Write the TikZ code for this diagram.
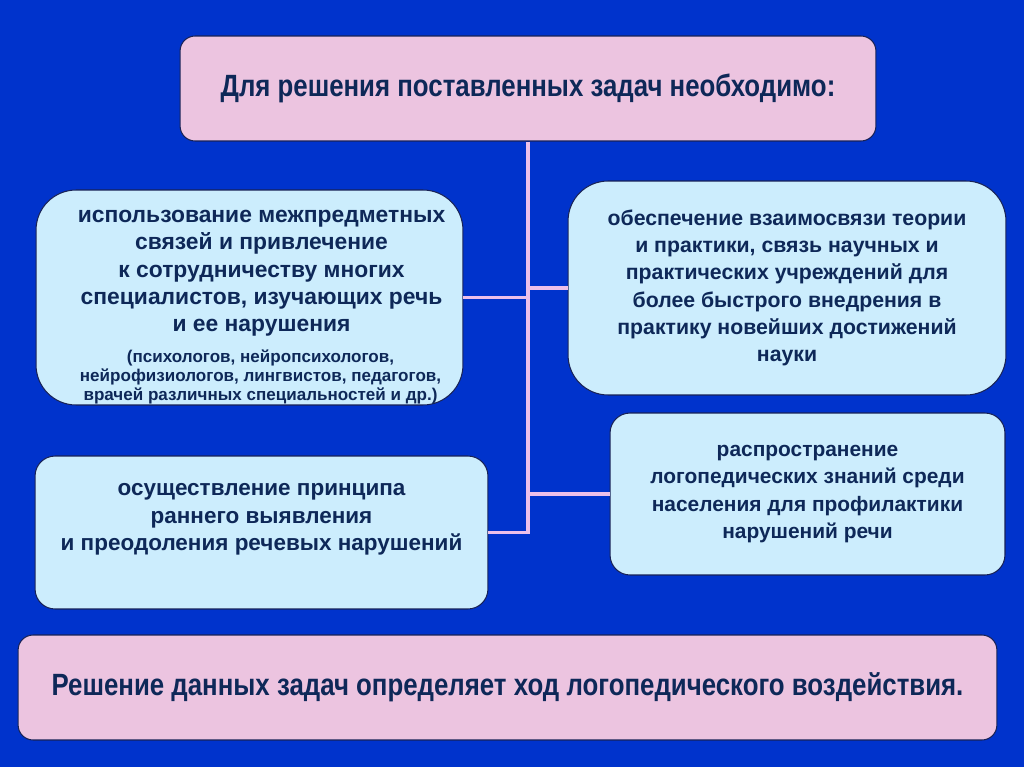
\documentclass[tikz,border=0pt]{standalone}
\usepackage{fontspec}
\setmainfont{Liberation Sans}
\newfontfamily\narrowfont[FakeStretch=0.84]{Liberation Sans}
\usetikzlibrary{positioning}

\definecolor{bgblue}{RGB}{0,51,204}
\definecolor{boxpink}{RGB}{236,196,224}
\definecolor{boxblue}{RGB}{204,237,253}
\definecolor{linkpink}{RGB}{236,192,234}
\definecolor{textnavy}{RGB}{14,40,88}
\definecolor{edgenavy}{RGB}{24,34,86}
\newcommand{\smalltext}{\fontsize{9.7}{10.9}\selectfont}

\tikzset{
    headbox/.style={draw=edgenavy, line width=0.6pt, fill=boxpink, rounded corners=0.3cm,
        text=textnavy, font=\narrowfont\bfseries\fontsize{17.5}{20}\selectfont, align=center},
    taskbox/.style={draw=edgenavy, line width=0.6pt, fill=boxblue,
        text=textnavy, font=\bfseries\fontsize{12.4}{15.5}\selectfont, align=center},
    link/.style={draw=linkpink, line width=1.8pt}
}

\begin{document}
\begin{tikzpicture}[x=0.02cm, y=-0.02cm]
    \fill[bgblue] (0,0) rectangle (1024,767);

    % main boxes
    \node[headbox, minimum width=13.92cm, minimum height=2.1cm] (top) at (528,88.5)
        {Для решения поставленных задач необходимо:};
    \node[taskbox, rounded corners=0.8cm, minimum width=8.54cm, minimum height=4.3cm,
        font=\bfseries\fontsize{13}{15.5}\selectfont, text depth=12.6pt] (lA) at (249.5,297.5)
        {\hspace*{0.48cm}использование межпредметных\\ \hspace*{0.48cm}связей и привлечение\\
         \hspace*{0.48cm}к сотрудничеству многих\\ \hspace*{0.48cm}специалистов, изучающих речь\\
         \hspace*{0.48cm}и ее нарушения\\[2pt]
         \smalltext\begin{tabular}[t]{@{\hspace{0.44cm}}c@{}}(психологов, нейропсихологов,\\
         нейрофизиологов, лингвистов, педагогов,\\ врачей различных специальностей и др.)\end{tabular}};
    \node[taskbox, rounded corners=0.8cm, minimum width=8.76cm, minimum height=4.28cm,
        font=\bfseries\fontsize{12.1}{15.5}\selectfont] (rA) at (787,288)
        {обеспечение взаимосвязи теории\\ и практики, связь научных и\\ практических учреждений для\\
         более быстрого внедрения в\\ практику новейших достижений\\ науки};
    \node[taskbox, rounded corners=0.4cm, minimum width=9.06cm, minimum height=3.06cm,
        font=\bfseries\fontsize{12.8}{15.8}\selectfont, text depth=0.62cm] (lB) at (261.5,532.5)
        {осуществление принципа\\ раннего выявления\\ и преодоления речевых нарушений};
    \node[taskbox, rounded corners=0.4cm, minimum width=7.9cm, minimum height=3.24cm,
        font=\bfseries\fontsize{11.9}{15.7}\selectfont] (rB) at (807.5,494)
        {распространение\\ логопедических знаний среди\\ населения для профилактики\\ нарушений речи};
    \node[headbox, minimum width=19.58cm, minimum height=2.1cm] (bot) at (507.5,687.5)
        {Решение данных задач определяет ход логопедического воздействия.};

    % connectors
    \draw[link] (top.south) |- (lB.east);
    \draw[link] (lA.east) -- (lA.east -| top.south);
    \draw[link] (rA.west) -- (rA.west -| top.south);
    \draw[link] (rB.west) -- (rB.west -| top.south);
\end{tikzpicture}
\end{document}
